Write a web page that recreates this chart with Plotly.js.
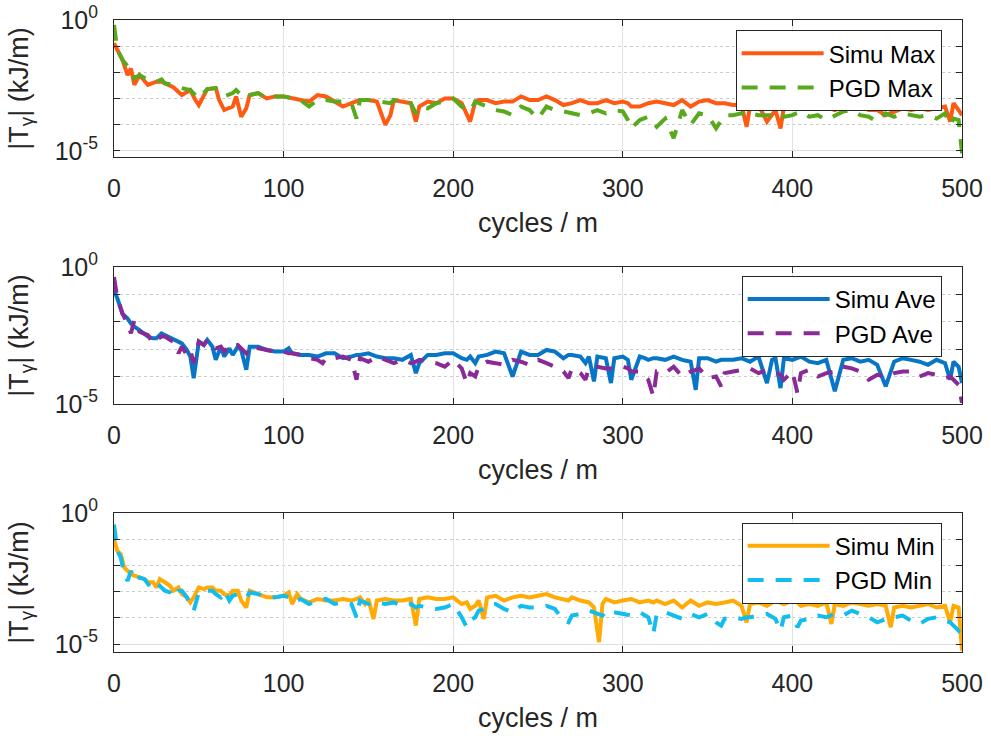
<!DOCTYPE html>
<html><head><meta charset="utf-8">
<script src="https://cdn.plot.ly/plotly-3.0.1.min.js"></script>
<style>html,body{margin:0;padding:0;background:#fff}#chart{width:991px;height:736px}</style>
</head><body><div id="chart"></div>
<script>
// ---- Panel 1: Max ----
const cyclesMax = [0,2,5,8,10,12,15,20,25,28,30,35,40,45,48,50,55,60,62,65,70,72,75,78,80,85,90,95,100,105,110,115,120,125,130,135,140,143,145,150,155,160,163,165,170,175,178,180,185,190,195,200,205,210,213,215,220,225,230,235,240,245,250,255,260,265,270,275,280,285,290,295,300,303,305,310,315,320,325,330,335,340,345,350,355,360,365,370,373,375,380,385,390,393,395,400,405,410,415,420,425,430,435,440,445,450,455,460,465,470,475,480,485,490,493,495,498,500];
const simuMax = [0.13,0.071,0.030,0.0079,0.014,0.0033,0.0079,0.0033,0.0044,0.0044,
0.0038,0.0027,0.00135,0.0021,8.7e-4,5.6e-4,0.0023,0.0025,8.7e-4,3.6e-4,
4.9e-4,0.0012,2.0e-4,4.2e-4,0.00135,0.0016,0.0010,0.0012,0.0012,0.0010,
8.7e-4,7.6e-4,0.00135,0.0012,7.6e-4,4.9e-4,6.6e-4,7.6e-4,8.7e-4,8.7e-4,
7.6e-4,9.8e-5,2.3e-4,8.7e-4,7.6e-4,6.6e-4,1.3e-4,4.9e-4,7.6e-4,6.6e-4,
0.0010,0.0010,6.6e-4,1.3e-4,7.6e-4,8.7e-4,8.7e-4,6.6e-4,7.6e-4,7.6e-4,
0.0012,8.7e-4,8.7e-4,0.0012,8.7e-4,5.6e-4,6.6e-4,8.7e-4,6.6e-4,6.6e-4,
8.7e-4,6.6e-4,7.6e-4,6.6e-4,4.9e-4,4.9e-4,6.6e-4,7.6e-4,6.6e-4,5.6e-4,
8.7e-4,4.9e-4,7.6e-4,8.7e-4,6.6e-4,6.6e-4,5.6e-4,5.6e-4,8.3e-5,4.9e-4,
5.6e-4,1.3e-4,3.6e-4,7.2e-5,4.9e-4,4.2e-4,4.9e-4,4.9e-4,4.2e-4,4.9e-4,
3.6e-4,4.9e-4,4.2e-4,4.9e-4,3.6e-4,3.6e-4,2.3e-4,3.2e-4,4.2e-4,3.6e-4,
4.2e-4,3.6e-4,4.2e-4,4.9e-4,1.3e-4,6.6e-4,3.6e-4,2.3e-4];
const pgdMax = [0.65,0.071,0.030,0.017,0.014,0.0059,0.0079,0.0051,0.0044,0.0054,
0.0038,0.0033,0.0025,0.0021,0.00135,0.0010,0.0023,0.0025,0.0018,0.0012,
0.0016,0.0021,0.00135,0.0018,0.00135,0.0016,0.0010,0.0012,0.0012,0.0010,
8.7e-4,4.9e-4,8.7e-4,8.7e-4,7.6e-4,7.6e-4,6.6e-4,1.7e-4,8.7e-4,8.7e-4,
7.6e-4,6.6e-4,6.6e-4,8.7e-4,7.6e-4,6.6e-4,2.7e-4,4.9e-4,4.2e-4,6.6e-4,
7.6e-4,0.0010,4.9e-4,3.2e-4,7.6e-4,6.6e-4,4.9e-4,3.6e-4,3.2e-4,2.3e-4,
4.9e-4,3.6e-4,1.7e-4,4.9e-4,3.6e-4,3.2e-4,2.7e-4,2.3e-4,2.7e-4,3.6e-4,
2.7e-4,3.6e-4,3.2e-4,1.5e-4,7.2e-5,1.5e-4,2.0e-4,8.3e-5,1.7e-4,3.0e-5,
3.6e-4,9.8e-5,2.7e-4,2.3e-4,7.2e-5,2.3e-4,2.3e-4,2.7e-4,2.3e-4,2.7e-4,
2.3e-4,2.3e-4,2.3e-4,2.7e-4,2.0e-4,2.3e-4,3.2e-4,2.0e-4,2.3e-4,1.5e-4,
2.3e-4,3.2e-4,3.6e-4,2.3e-4,2.0e-4,1.3e-4,2.7e-4,2.0e-4,2.7e-4,2.3e-4,
2.0e-4,2.3e-4,1.7e-4,2.7e-4,9.8e-5,1.7e-4,1.5e-4,7.9e-6];

// ---- Panel 2: Ave ----
const cyclesAve = [0,2,5,8,10,12,15,18,20,23,25,28,30,33,35,38,40,43,45,47,50,53,55,58,60,63,65,68,70,73,75,78,80,85,90,95,100,103,105,110,115,120,123,125,130,135,140,143,145,150,155,160,165,170,175,178,180,185,190,195,200,205,208,210,213,215,220,225,230,235,240,245,250,255,260,265,268,270,275,278,280,283,285,290,293,295,300,303,305,310,313,315,318,320,325,330,335,340,343,345,350,355,358,360,365,370,375,380,385,388,390,393,395,400,403,405,410,415,420,425,430,435,440,445,450,455,460,465,470,475,480,485,490,493,495,498,500];
const simuAve = [0.142,0.071,0.020,0.0133,0.0087,0.0066,0.0050,0.0038,0.0029,0.0025,
0.0025,0.0038,0.0033,0.0029,0.0025,0.0019,0.00164,9.4e-4,5.4e-4,8.8e-5,
0.0019,0.00143,0.0022,0.00124,4.1e-4,0.00124,5.4e-4,0.00108,6.2e-4,0.00124,
9.4e-4,1.77e-4,0.00124,0.00124,9.4e-4,8.2e-4,8.2e-4,0.00108,7.1e-4,6.2e-4,
6.2e-4,5.4e-4,6.2e-4,7.1e-4,7.1e-4,4.7e-4,5.4e-4,6.2e-4,6.2e-4,7.1e-4,
5.4e-4,4.7e-4,4.7e-4,4.1e-4,6.2e-4,1.34e-4,3.1e-4,6.2e-4,6.2e-4,7.1e-4,
7.1e-4,4.7e-4,4.1e-4,5.4e-4,3.1e-4,5.4e-4,6.2e-4,8.2e-4,7.1e-4,1.01e-4,
8.2e-4,6.2e-4,6.2e-4,9.4e-4,8.2e-4,4.7e-4,6.2e-4,6.2e-4,5.4e-4,3.1e-4,
5.4e-4,6.7e-5,5.4e-4,4.7e-4,5.8e-5,4.7e-4,5.4e-4,4.1e-4,7.7e-5,5.4e-4,
4.7e-4,4.1e-4,4.7e-4,4.7e-4,4.1e-4,5.4e-4,4.1e-4,3.5e-4,3.3e-5,4.7e-4,
4.7e-4,3.5e-4,4.1e-4,4.1e-4,4.1e-4,4.7e-4,3.5e-4,5.4e-4,5.8e-5,4.1e-4,
4.7e-4,3.8e-5,4.7e-4,4.1e-4,4.7e-4,5.4e-4,3.5e-4,3.1e-4,4.1e-4,2.9e-5,
4.1e-4,4.7e-4,3.5e-4,4.1e-4,2.7e-4,4.4e-5,3.5e-4,4.7e-4,4.1e-4,3.5e-4,
2.7e-4,4.1e-4,3.1e-4,7.7e-5,3.5e-4,2.3e-4,5.8e-5];
const pgdAve = [0.43,0.071,0.020,0.0087,0.0038,0.0116,0.0044,0.0038,0.0033,0.00164,
0.0022,0.0029,0.0029,0.0022,0.0019,7.1e-4,0.00124,6.2e-4,9.4e-4,3.1e-4,
0.0019,0.00143,0.0022,0.00164,0.00108,0.00124,8.2e-4,0.00143,0.00124,0.00143,
0.00108,7.1e-4,0.00124,0.00108,9.4e-4,8.2e-4,8.2e-4,7.1e-4,7.1e-4,6.2e-4,
4.7e-4,4.1e-4,3.1e-4,4.7e-4,4.7e-4,5.4e-4,4.1e-4,7.7e-5,4.7e-4,3.5e-4,
5.4e-4,4.1e-4,3.1e-4,4.1e-4,3.1e-4,3.5e-4,4.1e-4,3.5e-4,3.1e-4,2.3e-4,
4.1e-4,2.0e-4,5.8e-5,1.34e-4,1.01e-4,2.3e-4,3.5e-4,3.1e-4,2.7e-4,4.1e-4,
3.5e-4,2.7e-4,4.1e-4,3.1e-4,2.3e-4,1.53e-4,8.8e-5,2.0e-4,1.34e-4,7.7e-5,
2.0e-4,2.3e-4,2.3e-4,2.0e-4,2.0e-4,2.0e-4,2.3e-4,2.0e-4,1.53e-4,1.53e-4,
1.01e-4,7.7e-5,1.9e-5,1.53e-4,1.34e-4,2.3e-4,1.01e-4,1.53e-4,1.77e-4,2.0e-4,
8.8e-5,1.01e-4,4.4e-5,1.34e-4,1.53e-4,1.77e-4,2.0e-4,1.34e-4,1.77e-4,1.53e-4,
1.34e-4,1.16e-4,7.7e-5,1.53e-4,2.5e-5,1.34e-4,1.77e-4,1.01e-4,1.34e-4,1.53e-4,
2.3e-4,2.0e-4,1.53e-4,7.7e-5,1.16e-4,1.01e-4,1.34e-4,1.53e-4,1.53e-4,1.01e-4,
1.34e-4,1.16e-4,8.8e-5,1.01e-4,7.7e-5,5.0e-5,1.09e-5];

// ---- Panel 3: Min ----
const cyclesMin = [0,2,4,6,8,10,12,15,18,20,23,25,27,30,33,35,38,40,43,45,47,50,53,55,58,60,63,65,68,70,73,75,78,80,85,90,95,100,103,105,108,110,115,120,125,130,135,140,143,145,148,150,153,155,160,165,170,175,178,180,185,190,195,200,205,208,210,213,215,218,220,225,230,235,240,245,250,255,260,265,268,270,275,280,283,286,288,290,295,300,305,310,315,318,320,325,330,335,340,345,350,355,358,360,365,370,373,375,380,385,390,393,395,400,403,405,410,415,420,423,425,430,435,440,445,450,455,458,460,465,470,475,480,485,490,493,495,498,500];
const simuMin = [0.10,0.036,0.027,0.0084,0.0063,0.0047,0.0041,0.0035,0.0030,0.0023,
0.0023,0.00146,0.0030,0.0023,0.00169,0.00109,0.00146,8.1e-4,6.1e-4,3.9e-4,
6.1e-4,0.00146,0.00126,0.00146,0.00146,0.00109,0.00109,8.1e-4,7.0e-4,0.00109,
0.00109,4.6e-4,2.5e-4,0.00109,8.1e-4,6.1e-4,6.1e-4,7.0e-4,9.4e-4,3.4e-4,
8.1e-4,5.3e-4,3.9e-4,5.3e-4,4.6e-4,4.6e-4,5.3e-4,4.6e-4,5.3e-4,6.1e-4,
3.4e-4,5.3e-4,9.2e-5,4.6e-4,5.3e-4,4.6e-4,4.6e-4,5.3e-4,5.1e-5,5.3e-4,
6.1e-4,5.3e-4,5.3e-4,6.1e-4,3.4e-4,3.9e-4,2.2e-4,2.9e-4,4.6e-4,9.2e-5,
6.1e-4,7.0e-4,4.6e-4,6.1e-4,7.0e-4,6.1e-4,7.0e-4,8.1e-4,6.1e-4,5.3e-4,
4.6e-4,6.1e-4,4.6e-4,3.9e-4,2.5e-4,1.19e-5,3.4e-4,5.3e-4,3.9e-4,4.6e-4,
5.3e-4,3.9e-4,4.6e-4,3.9e-4,4.6e-4,3.4e-4,4.6e-4,2.5e-4,4.6e-4,2.9e-4,
3.9e-4,3.4e-4,3.9e-4,3.9e-4,4.6e-4,2.9e-4,6.8e-5,3.4e-4,3.9e-4,2.9e-4,
4.6e-4,3.9e-4,3.4e-4,4.6e-4,3.9e-4,2.9e-4,3.4e-4,2.9e-4,3.9e-4,5.9e-5,
3.4e-4,2.9e-4,3.9e-4,3.4e-4,2.9e-4,3.4e-4,2.9e-4,4.4e-5,2.5e-4,2.9e-4,
2.5e-4,2.9e-4,3.4e-4,2.5e-4,2.9e-4,6.8e-5,2.9e-4,2.5e-4,5.7e-6];
const pgdMin = [0.37,0.036,0.020,0.0047,0.0026,0.0063,0.0026,0.0035,0.0030,0.00195,
0.00109,0.00126,0.00169,0.00109,9.4e-4,6.1e-4,0.00109,0.00109,6.1e-4,2.9e-4,
1.9e-4,9.4e-4,0.00109,0.00109,0.00109,8.1e-4,6.1e-4,0.00109,4.6e-4,7.0e-4,
8.1e-4,8.1e-4,6.1e-4,9.4e-4,8.1e-4,6.1e-4,6.1e-4,7.0e-4,6.1e-4,7.0e-4,
4.6e-4,5.3e-4,3.4e-4,4.6e-4,5.3e-4,3.4e-4,3.9e-4,3.4e-4,1.06e-4,4.6e-4,
3.9e-4,3.4e-4,3.9e-4,3.9e-4,3.4e-4,3.9e-4,2.9e-4,3.4e-4,2.5e-4,2.9e-4,
2.5e-4,2.2e-4,2.5e-4,3.4e-4,1.06e-4,4.4e-5,7.9e-5,1.06e-4,1.9e-4,2.2e-4,
2.9e-4,3.4e-4,2.2e-4,1.64e-4,2.9e-4,2.5e-4,2.5e-4,2.9e-4,2.2e-4,7.9e-5,
6.8e-5,1.23e-4,1.42e-4,1.9e-4,1.64e-4,1.42e-4,1.23e-4,1.9e-4,1.64e-4,1.42e-4,
1.23e-4,1.64e-4,1.06e-4,2.5e-5,1.42e-4,1.64e-4,1.23e-4,9.2e-5,1.42e-4,1.06e-4,
1.42e-4,6.8e-5,5.1e-5,9.2e-5,1.06e-4,9.2e-5,1.06e-4,1.06e-4,1.23e-4,1.42e-4,
9.2e-5,3.3e-5,1.06e-4,1.23e-4,4.4e-5,7.9e-5,9.2e-5,1.23e-4,1.06e-4,1.23e-4,
1.42e-4,1.23e-4,1.9e-4,1.42e-4,1.06e-4,6.8e-5,9.2e-5,1.06e-4,1.06e-4,1.23e-4,
7.9e-5,5.9e-5,9.2e-5,1.06e-4,7.9e-5,6.8e-5,5.1e-5,3.3e-5,5.9e-5];

const xTicks = [0,100,200,300,400,500];
const yMajorTicks = [1e-5, 1];
const yMajorText = ['10<sup>-5</sup>', '10<sup>0</sup>'];
const yMinorTicks = [1e-4, 1e-3, 1e-2, 1e-1];

const FONT = '"Liberation Sans", Arial, Helvetica, sans-serif';
const AX = '#262626';
const DASH = '16px,12px';

function line(x, y, name, color, dash, xa, ya, leg) {
  return {type:'scatter', mode:'lines', x:x, y:y, name:name, xaxis:xa, yaxis:ya, legend:leg,
    line:{color:color, width:4, dash:dash}, hoverinfo:'skip'};
}
const traces = [
  line(cyclesMax, simuMax, 'Simu Max', '#FF5A14', 'solid', 'x', 'y', 'legend'),
  line(cyclesMax, pgdMax, 'PGD Max', '#58AA1C', DASH, 'x', 'y', 'legend'),
  line(cyclesAve, simuAve, 'Simu Ave', '#0876C6', 'solid', 'x2', 'y2', 'legend2'),
  line(cyclesAve, pgdAve, 'PGD Ave', '#8A2A96', DASH, 'x2', 'y2', 'legend2'),
  line(cyclesMin, simuMin, 'Simu Min', '#FFAA05', 'solid', 'x3', 'y3', 'legend3'),
  line(cyclesMin, pgdMin, 'PGD Min', '#12BDEE', DASH, 'x3', 'y3', 'legend3')
];

function xaxis(anchor) {
  return {anchor:anchor, domain:[0,1], range:[0,500], tickmode:'array', tickvals:xTicks,
    ticks:'inside', ticklen:6, tickcolor:AX, showline:true, linecolor:AX, linewidth:1, mirror:'ticks',
    showgrid:true, gridcolor:'#e2e2e2', gridwidth:1, zeroline:false,
    tickfont:{family:FONT, size:25, color:AX}, ticklabelstandoff:9,
    title:{text:'cycles / m', font:{family:FONT, size:27, color:AX}, standoff:12}};
}
function yaxis(anchor, domain, lo) {
  return {anchor:anchor, domain:domain, type:'log', range:[lo, 0.003],
    tickmode:'array', tickvals:yMajorTicks, ticktext:yMajorText,
    ticks:'inside', ticklen:6, tickcolor:AX, showline:true, linecolor:AX, linewidth:1, mirror:'ticks',
    showgrid:true, gridcolor:'#dedede', gridwidth:1, zeroline:false,
    minor:{tickmode:'array', tickvals:yMinorTicks, ticks:'inside', ticklen:6, tickcolor:AX,
      showgrid:true, gridcolor:'#cccccc', gridwidth:1, griddash:'dot'},
    tickfont:{family:FONT, size:25, color:AX}, ticklabelstandoff:10,
    title:{text:'|T<sub>γ</sub>| (kJ/m)', font:{family:FONT, size:27, color:AX}, standoff:18}};
}
function legend(y) {
  return {x:0.976, xanchor:'right', y:y, yanchor:'top', bgcolor:'#ffffff', bordercolor:AX, borderwidth:1,
    font:{family:FONT, size:24, color:'#000'}, itemwidth:82, traceorder:'normal'};
}

const layout = {
  width:991, height:736, paper_bgcolor:'#fff', plot_bgcolor:'#fff',
  margin:{l:114, r:29, t:20, b:84}, showlegend:true, font:{family:FONT, color:AX},
  xaxis: xaxis('y'), xaxis2: xaxis('y2'), xaxis3: xaxis('y3'),
  yaxis: yaxis('x', [0.7832, 1], -5.24),
  yaxis2: yaxis('x2', [0.3924, 0.6092], -5.0),
  yaxis3: yaxis('x3', [0, 0.2199], -5.3),
  legend: legend(0.984), legend2: legend(0.595), legend3: legend(0.2045)
};
Plotly.newPlot('chart', traces, layout, {staticPlot:true, displayModeBar:false});
</script></body></html>
